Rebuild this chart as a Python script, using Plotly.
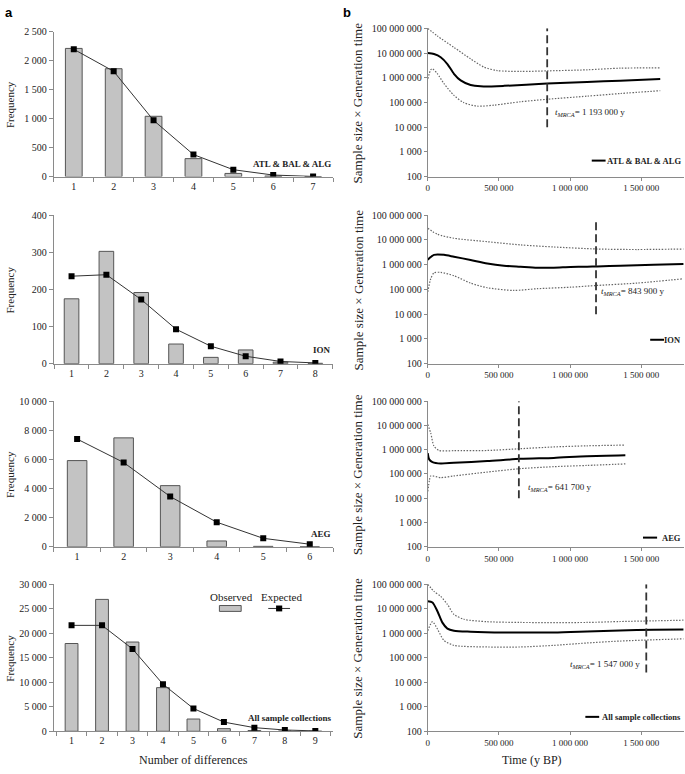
import plotly.graph_objects as go

# ---------------- data : panel a (mismatch distributions) ----------------
cats_atl = ["1", "2", "3", "4", "5", "6", "7"]
obs_atl = [2210, 1860, 1040, 310, 55, 10, 2]
exp_atl = [2195, 1815, 970, 380, 119, 27, 3]

cats_ion = ["1", "2", "3", "4", "5", "6", "7", "8"]
obs_ion = [175, 303, 192, 53, 17, 37, 4, 1]
exp_ion = [236, 240, 173, 93, 47, 20, 6, 2]

cats_aeg = ["1", "2", "3", "4", "5", "6"]
obs_aeg = [5920, 7480, 4200, 400, 30, 0]
exp_aeg = [7400, 5790, 3450, 1690, 580, 176]

cats_all = ["1", "2", "3", "4", "5", "6", "7", "8", "9"]
obs_all = [17900, 26900, 18200, 8900, 2500, 540, 150, 50, 10]
exp_all = [21600, 21600, 16800, 9600, 4650, 1870, 740, 260, 80]

group_labels = ["ATL &amp; BAL &amp; ALG", "ION", "AEG", "All sample collections"]
freq_max = [2500, 400, 10000, 30000]
freq_step = [500, 100, 2000, 5000]

# ---------------- data : panel b (Bayesian skyline plots) ----------------
atl_med_t = [0, 44000, 91000, 138000, 184000, 231000, 301000, 371000, 535000, 839000, 1119000, 1352000, 1633000]
atl_med = [1.0e7, 9.1e6, 6.8e6, 3.6e6, 1.45e6, 7.8e5, 5.1e5, 4.5e5, 4.7e5, 5.8e5, 6.8e5, 7.6e5, 8.9e5]
atl_up_t = [0, 68000, 184000, 301000, 395000, 488000, 652000, 839000, 1119000, 1352000, 1633000]
atl_up = [1.0e8, 4.9e7, 1.7e7, 5.8e6, 2.7e6, 1.95e6, 1.8e6, 1.9e6, 2.1e6, 2.45e6, 2.5e6]
atl_lo_t = [0, 21000, 33000, 68000, 114000, 184000, 254000, 348000, 465000, 652000, 839000, 1119000, 1352000, 1633000]
atl_lo = [9.1e5, 2.1e6, 2.3e6, 1.45e6, 5.8e5, 1.95e5, 9.8e4, 7.1e4, 7.8e4, 1.07e5, 1.35e5, 1.8e5, 2.3e5, 3.0e5]

ion_med_t = [0, 44000, 114000, 184000, 301000, 418000, 535000, 652000, 769000, 885000, 1002000, 1119000, 1189000, 1352000, 1586000, 1796000]
ion_med = [1.6e6, 2.5e6, 2.5e6, 2.1e6, 1.55e6, 1.12e6, 9.1e5, 8.3e5, 7.6e5, 7.6e5, 8.1e5, 8.3e5, 8.5e5, 9.1e5, 1.0e6, 1.07e6]
ion_up_t = [0, 68000, 184000, 418000, 652000, 885000, 1189000, 1469000, 1796000]
ion_up = [3.0e7, 1.7e7, 1.17e7, 8.5e6, 6.3e6, 5.2e6, 4.3e6, 4.1e6, 4.3e6]
ion_lo_t = [0, 21000, 44000, 91000, 184000, 301000, 418000, 605000, 769000, 1002000, 1189000, 1469000, 1796000]
ion_lo = [8.0e4, 2.7e5, 4.7e5, 4.9e5, 3.6e5, 1.8e5, 1.17e5, 9.1e4, 1.07e5, 1.23e5, 1.45e5, 1.8e5, 2.7e5]

aeg_med_t = [0, 10000, 33000, 91000, 184000, 418000, 652000, 885000, 1119000, 1388000]
aeg_med = [7.2e5, 4.0e5, 3.1e5, 2.7e5, 2.9e5, 3.4e5, 4.2e5, 4.6e5, 5.4e5, 5.9e5]
aeg_up_t = [0, 21000, 44000, 79000, 184000, 418000, 652000, 885000, 1119000, 1388000]
aeg_up = [1.1e7, 4.8e6, 1.4e6, 9.3e5, 9.1e5, 9.3e5, 1.1e6, 1.3e6, 1.45e6, 1.55e6]
aeg_lo_t = [0, 12000, 21000, 91000, 184000, 418000, 652000, 885000, 1119000, 1388000]
aeg_lo = [1.9e4, 5.6e4, 8.3e4, 7.1e4, 8.3e4, 1.2e5, 1.66e5, 2.0e5, 2.25e5, 2.6e5]

all_med_t = [0, 33000, 68000, 103000, 138000, 184000, 301000, 535000, 885000, 1119000, 1352000, 1586000, 1796000]
all_med = [2.0e7, 1.8e7, 7.9e6, 2.7e6, 1.55e6, 1.26e6, 1.15e6, 1.07e6, 1.07e6, 1.17e6, 1.29e6, 1.38e6, 1.41e6]
all_up_t = [0, 44000, 91000, 138000, 184000, 254000, 418000, 652000, 1119000, 1352000, 1586000, 1796000]
all_up = [1.0e8, 5.1e7, 3.2e7, 1.5e7, 5.9e6, 3.7e6, 2.95e6, 2.75e6, 2.75e6, 3.0e6, 3.2e6, 3.4e6]
all_lo_t = [0, 33000, 68000, 114000, 184000, 418000, 652000, 885000, 1119000, 1352000, 1586000, 1796000]
all_lo = [1.26e6, 2.95e6, 1.48e6, 5.1e5, 3.2e5, 2.75e5, 2.75e5, 3.2e5, 4.0e5, 4.8e5, 5.4e5, 5.9e5]

tmrca_line_t = [839000, 1182000, 640000, 1535000]
tmrca_line_lo = [1e4, 1e4, 1e4, 2.5e4]
tmrca_line_hi = [1e8, 7.5e7, 1e8, 1e8]
tmrca_text = ["1 193 000 y", "843 900 y", "641 700 y", "1 547 000 y"]

time_ticks = [0, 500000, 1000000, 1500000]
size_ticks = [1e2, 1e3, 1e4, 1e5, 1e6, 1e7, 1e8]

# ---------------- layout helpers ----------------
W, H = 685, 774
FONT = "Liberation Serif"
AX = "#8a8a8a"
left_dom = [52 / W, 332 / W]
right_dom = [427 / W, 684 / W]
left_rows = [(26, 173.3), (212.7, 363.3), (401.4, 549.3), (587.3, 736.7)]
right_rows = [(22.7, 173.3), (212.5, 363.3), (401.4, 549.3), (587.3, 736.7)]


def ydom(r):
    return [1 - r[1] / H, 1 - r[0] / H]


def ax(k):
    return ("x" if k == 1 else f"x{k}"), ("y" if k == 1 else f"y{k}")


left_data = [(cats_atl, obs_atl, exp_atl), (cats_ion, obs_ion, exp_ion),
             (cats_aeg, obs_aeg, exp_aeg), (cats_all, obs_all, exp_all)]
right_data = [
    (atl_med_t, atl_med, atl_up_t, atl_up, atl_lo_t, atl_lo),
    (ion_med_t, ion_med, ion_up_t, ion_up, ion_lo_t, ion_lo),
    (aeg_med_t, aeg_med, aeg_up_t, aeg_up, aeg_lo_t, aeg_lo),
    (all_med_t, all_med, all_up_t, all_up, all_lo_t, all_lo),
]

fig = go.Figure()
layout = dict(
    width=W, height=H, autosize=False,
    margin=dict(l=0, r=0, t=0, b=0),
    paper_bgcolor="white", plot_bgcolor="white",
    showlegend=False, separators=". ",
    font=dict(family=FONT, size=10, color="#222"),
)
annotations = []
shapes = []

for i in range(4):
    kl, kr = 2 * i + 1, 2 * i + 2
    xl, yl = ax(kl)
    xr, yr = ax(kr)
    cats, obs, exp = left_data[i]
    fig.add_trace(go.Bar(x=cats, y=obs, width=0.42, xaxis=xl, yaxis=yl,
                         marker=dict(color="#c3c3c3", line=dict(color="#555", width=1))))
    fig.add_trace(go.Scatter(x=cats, y=exp, mode="lines+markers", xaxis=xl, yaxis=yl,
                             line=dict(color="#333", width=1),
                             marker=dict(symbol="square", size=6, color="black")))
    layout["xaxis" if kl == 1 else f"xaxis{kl}"] = dict(
        domain=left_dom, anchor=yl, type="category", tickson="boundaries",
        ticks="outside", ticklen=4, tickcolor=AX, showline=True, linecolor=AX,
        showgrid=False, zeroline=False, tickfont=dict(size=10))
    layout["yaxis" if kl == 1 else f"yaxis{kl}"] = dict(
        domain=ydom(left_rows[i]), anchor=xl, range=[0, freq_max[i]], dtick=freq_step[i],
        tickformat=",d", ticks="outside", ticklen=4, tickcolor=AX, showline=True,
        linecolor=AX, showgrid=False, zeroline=False, tickfont=dict(size=10))
    annotations.append(dict(text="Frequency", xref="paper", yref="paper", x=8 / W,
                            y=1 - (left_rows[i][0] + left_rows[i][1]) / 2 / H, textangle=-90,
                            showarrow=False, font=dict(size=11), xanchor="center", yanchor="middle"))
    annotations.append(dict(text=f"<b>{group_labels[i]}</b>", xref=f"{xl} domain", yref=f"{yl} domain",
                            x=1.0, y=0.09, xanchor="right", yanchor="middle", showarrow=False,
                            font=dict(size=9)))

    mt, mv, ut, uv, lt, lv = right_data[i]
    for t, v in ((ut, uv), (lt, lv)):
        fig.add_trace(go.Scatter(x=t, y=v, mode="lines", xaxis=xr, yaxis=yr,
                                 line=dict(color="#666", width=1.2, dash="1.5px,1.5px", shape="spline", smoothing=0.7)))
    fig.add_trace(go.Scatter(x=mt, y=mv, mode="lines", xaxis=xr, yaxis=yr,
                             line=dict(color="black", width=2, shape="spline", smoothing=0.7)))
    fig.add_trace(go.Scatter(x=[tmrca_line_t[i], tmrca_line_t[i]], y=[tmrca_line_lo[i], tmrca_line_hi[i]],
                             mode="lines", xaxis=xr, yaxis=yr,
                             line=dict(color="#333", width=1.8, dash="8px,4px")))
    layout["xaxis" if kr == 1 else f"xaxis{kr}"] = dict(
        domain=right_dom, anchor=yr, range=[0, 1800000], tickvals=time_ticks, tickformat=",",
        ticks="outside", ticklen=3, tickcolor=AX, showline=True, linecolor=AX,
        showgrid=False, zeroline=False, tickfont=dict(size=9))
    layout["yaxis" if kr == 1 else f"yaxis{kr}"] = dict(
        domain=ydom(right_rows[i]), anchor=xr, type="log", range=[2, 8], tickvals=size_ticks,
        tickformat=",", ticks="outside", ticklen=3, tickcolor=AX, showline=True, linecolor=AX,
        showgrid=False, zeroline=False, tickfont=dict(size=10))
    annotations.append(dict(text="Sample size \u00d7 Generation time", xref="paper", yref="paper",
                            x=357 / W, y=1 - (right_rows[i][0] + right_rows[i][1]) / 2 / H, textangle=-90,
                            showarrow=False, font=dict(size=13), xanchor="center", yanchor="middle"))

# x-axis titles of the bottom row
annotations.append(dict(text="Number of differences", xref="paper", yref="paper", x=192 / W, y=1 - 766 / H,
                        showarrow=False, font=dict(size=12), xanchor="center", yanchor="middle"))
annotations.append(dict(text="Time (y BP)", xref="paper", yref="paper", x=532 / W, y=1 - 766 / H,
                        showarrow=False, font=dict(size=12), xanchor="center", yanchor="middle"))

# tMRCA labels
tm_pos = [(883000, 4.6, "left"), (1205000, 4.92, "left"), (687000, 4.45, "left"), (1507000, 4.72, "right")]
for i in range(4):
    xr, yr = ax(2 * i + 2)
    x, y, anc = tm_pos[i]
    annotations.append(dict(text=f"<i>t</i><sub><i>MRCA</i></sub>= {tmrca_text[i]}", xref=xr, yref=yr,
                            x=x, y=y, xanchor=anc, yanchor="middle", showarrow=False, font=dict(size=9)))

# right-side legends (line sample + bold name)
leg_right = [(0.640, 0.694, 0.108), (0.868, 0.922, 0.161), (0.840, 0.895, 0.063), (0.615, 0.669, 0.098)]
for i in range(4):
    xr, yr = ax(2 * i + 2)
    x0, x1, y = leg_right[i]
    shapes.append(dict(type="line", xref=f"{xr} domain", yref=f"{yr} domain", x0=x0, x1=x1, y0=y, y1=y,
                       line=dict(color="black", width=2)))
    annotations.append(dict(text=f"<b>{group_labels[i]}</b>", xref=f"{xr} domain", yref=f"{yr} domain",
                            x=0.997, y=y, xanchor="right", yanchor="middle", showarrow=False,
                            font=dict(size=8.5)))

# Observed / Expected key in last left panel
annotations.append(dict(text="Observed", xref="x7 domain", yref="y7 domain", x=0.636, y=0.915,
                        showarrow=False, font=dict(size=11), xanchor="center", yanchor="middle"))
annotations.append(dict(text="Expected", xref="x7 domain", yref="y7 domain", x=0.814, y=0.915,
                        showarrow=False, font=dict(size=11), xanchor="center", yanchor="middle"))
shapes.append(dict(type="rect", xref="x7 domain", yref="y7 domain", x0=0.593, x1=0.671, y0=0.815, y1=0.855,
                   fillcolor="#c3c3c3", line=dict(color="#555", width=1)))
shapes.append(dict(type="line", xref="x7 domain", yref="y7 domain", x0=0.768, x1=0.846, y0=0.835, y1=0.835,
                   line=dict(color="#333", width=1)))
shapes.append(dict(type="rect", xref="x7 domain", yref="y7 domain", x0=0.796, x1=0.818, y0=0.815, y1=0.855,
                   fillcolor="black", line=dict(color="black", width=0)))

# panel letters
annotations.append(dict(text="<b>a</b>", xref="paper", yref="paper", x=1 / W, y=1 - 7 / H, showarrow=False,
                        xanchor="left", yanchor="middle", font=dict(family="Liberation Sans", size=13, color="black")))
annotations.append(dict(text="<b>b</b>", xref="paper", yref="paper", x=340 / W, y=1 - 7 / H, showarrow=False,
                        xanchor="left", yanchor="middle", font=dict(family="Liberation Sans", size=13, color="black")))

layout["annotations"] = annotations
layout["shapes"] = shapes
fig.update_layout(**layout)
fig.write_html("out.html", config={"displayModeBar": False},
               post_script="document.body.style.margin='0px';")
